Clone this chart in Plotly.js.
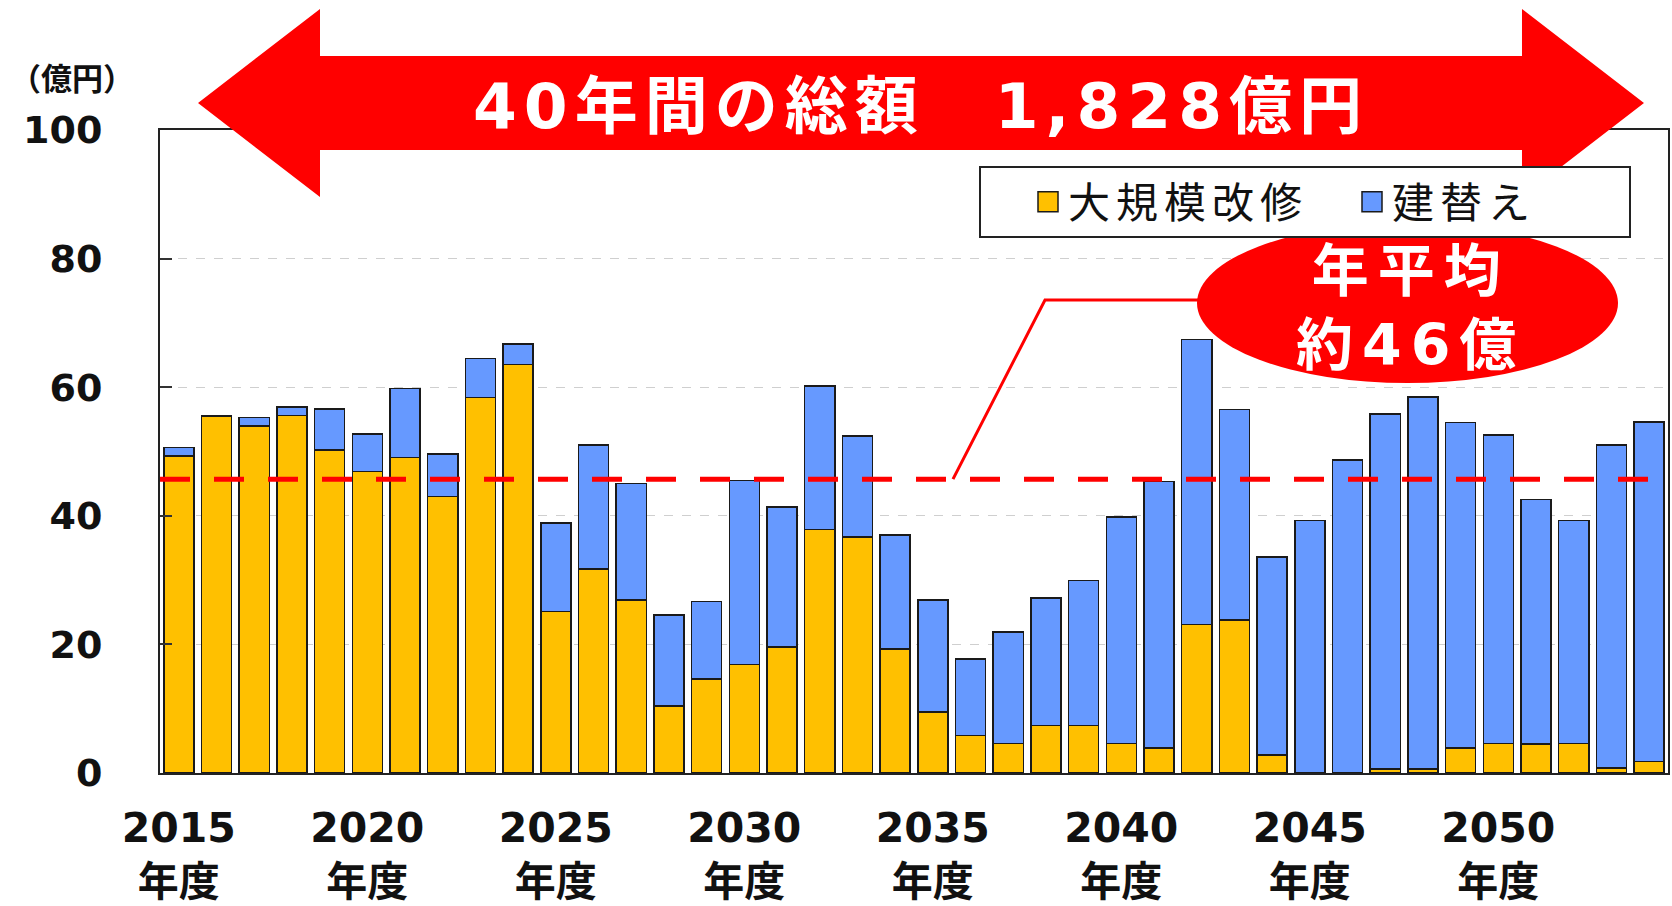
<!DOCTYPE html>
<html>
<head>
<meta charset="utf-8">
<script src="https://cdn.plot.ly/plotly-3.0.1.min.js"></script>
<style>
  html, body { margin: 0; padding: 0; background: #fff; }
  #chart { width: 1672px; height: 906px; }
  #chart .gtitle { letter-spacing: 7px; }
  #chart .legendtext { letter-spacing: 6px; }
  #chart .annotation[data-index="0"] .annotation-text { letter-spacing: 9px; }
</style>
</head>
<body>
<div id="chart"></div>
<script>
// ---- data (億円) ----
const years = ['2015','2016','2017','2018','2019','2020','2021','2022','2023','2024',
               '2025','2026','2027','2028','2029','2030','2031','2032','2033','2034',
               '2035','2036','2037','2038','2039','2040','2041','2042','2043','2044',
               '2045','2046','2047','2048','2049','2050','2051','2052','2053','2054'];
const renovation = [49.3, 55.5, 54.0, 55.6, 50.2, 46.9, 49.1, 43.0, 58.4, 63.5,
                    25.1, 31.7, 26.9, 10.4, 14.6, 16.9, 19.6, 37.9, 36.7, 19.3,
                    9.5, 5.8, 4.6, 7.4, 7.4, 4.6, 3.9, 23.1, 23.8, 2.8,
                    0, 0, 0.6, 0.6, 3.9, 4.6, 4.5, 4.6, 0.8, 1.8];
const rebuild = [1.3, 0, 1.3, 1.3, 6.4, 5.8, 10.7, 6.6, 6.1, 3.2,
                 13.8, 19.3, 18.1, 14.2, 12.1, 28.6, 21.8, 22.3, 15.7, 17.7,
                 17.4, 11.9, 17.3, 19.8, 22.5, 35.2, 41.4, 44.3, 32.7, 30.8,
                 39.3, 48.7, 55.2, 57.9, 50.6, 48.0, 38.0, 34.7, 50.2, 52.8];
const seriesNames = ['大規模改修', '建替え'];
const tickYears = ['2015','2020','2025','2030','2035','2040','2045','2050'];
const tickLabels = ['2015<br>年度','2020<br>年度','2025<br>年度','2030<br>年度',
                    '2035<br>年度','2040<br>年度','2045<br>年度','2050<br>年度'];
const averageValue = 45.7;
const titleText = '40年間の総額　1,828億円';
const averageText = '年平均<br>約46億';
const unitText = '（億円）';

// ---- layout geometry (pixels) ----
const L = 160, R = 1668, T = 130, B = 773;
const W = R - L, H = B - T;
const px = x => (x - L) / W;
const py = y => (B - y) / H;
const pathOf = pts => 'M' + pts.map(p => px(p[0]).toFixed(5) + ',' + py(p[1]).toFixed(5)).join('L') + 'Z';
const lineOf = pts => 'M' + pts.map(p => px(p[0]).toFixed(5) + ',' + py(p[1]).toFixed(5)).join('L');

const arrowPts = [[198,103],[320,9],[320,56],[1522,56],[1522,9],[1644,103],
                  [1522,197],[1522,150],[320,150],[320,197]];

const numFont = 'DejaVu Sans, Noto Sans CJK JP, sans-serif';
const cjkFont = 'Noto Sans CJK JP, sans-serif';

const traces = [
  {
    type: 'bar', name: seriesNames[0], x: years, y: renovation,
    marker: { color: '#FFC000', line: { color: '#1a1a1a', width: 1.5 } }
  },
  {
    type: 'bar', name: seriesNames[1], x: years, y: rebuild,
    marker: { color: '#6699FF', line: { color: '#1a1a1a', width: 1.5 } }
  }
];

const layout = {
  width: 1672, height: 906,
  margin: { l: L, r: 1672 - R, t: T, b: 906 - B, pad: 0, autoexpand: false },
  paper_bgcolor: '#ffffff', plot_bgcolor: '#ffffff',
  barmode: 'stack', bargap: 0.2,
  title: {
    text: titleText,
    font: { family: numFont, size: 63, color: '#ffffff', weight: 'bold' },
    x: 921 / 1672, xanchor: 'center', xref: 'container',
    y: 1 - 106 / 906, yanchor: 'middle', yref: 'container'
  },
  xaxis: {
    type: 'category', range: [-0.5, 39.5],
    tickmode: 'array', tickvals: tickYears, ticktext: tickLabels,
    tickfont: { family: numFont, size: 41, color: '#111', weight: 'bold' },
    ticks: '', ticklabelstandoff: 18,
    showline: true, linecolor: '#222', linewidth: 2, mirror: true,
    showgrid: false, zeroline: false, fixedrange: true
  },
  yaxis: {
    range: [0, 100], tickmode: 'array', tickvals: [0,20,40,60,80,100],
    tickfont: { family: numFont, size: 38, color: '#111', weight: 'bold' },
    ticks: 'inside', ticklen: 12, tickwidth: 2, tickcolor: '#333',
    ticklabelstandoff: 48,
    showline: true, linecolor: '#222', linewidth: 2, mirror: true,
    showgrid: true, gridcolor: '#cfcfcf', griddash: 'dash', gridwidth: 1,
    zeroline: false, fixedrange: true
  },
  showlegend: true,
  legend: {
    orientation: 'h', x: px(979), xanchor: 'left', y: py(166), yanchor: 'top',
    bgcolor: '#ffffff', bordercolor: '#222', borderwidth: 2,
    font: { family: cjkFont, size: 42, color: '#111' },
    traceorder: 'normal', indentation: 47, entrywidth: 232
  },
  shapes: [
    { type: 'path', xref: 'paper', yref: 'paper', path: pathOf(arrowPts),
      fillcolor: '#FF0000', line: { width: 0 }, layer: 'above' },
    { type: 'line', xref: 'paper', yref: 'y', x0: 0, x1: 1, y0: averageValue, y1: averageValue,
      line: { color: '#FF0000', width: 5, dash: '30px,24px' }, layer: 'above' },
    { type: 'path', xref: 'paper', yref: 'paper',
      path: lineOf([[953, B - averageValue * H / 100], [1045, 300], [1200, 300]]),
      line: { color: '#FF0000', width: 3 }, layer: 'above' },
    { type: 'circle', xref: 'paper', yref: 'paper',
      x0: px(1197), x1: px(1618), y0: py(383), y1: py(223),
      fillcolor: '#FF0000', line: { width: 0 }, layer: 'above' }
  ],
  annotations: [
    { xref: 'paper', yref: 'paper', x: px(1410), y: py(308), xanchor: 'center', yanchor: 'middle',
      text: averageText, showarrow: false, align: 'center',
      font: { family: numFont, size: 57, color: '#ffffff', weight: 'bold' } },
    { xref: 'paper', yref: 'paper', x: px(8), y: py(77), xanchor: 'left', yanchor: 'middle',
      text: unitText, showarrow: false,
      font: { family: cjkFont, size: 31, color: '#111', weight: 'bold' } }
  ]
};

Plotly.newPlot('chart', traces, layout, { displayModeBar: false, staticPlot: true }).then(gd => {
  gd.querySelectorAll('.legend .legendpoints path').forEach(p => {
    p.setAttribute('d', 'M10,10H-10V-10H10Z');
  });
});
</script>
</body>
</html>
